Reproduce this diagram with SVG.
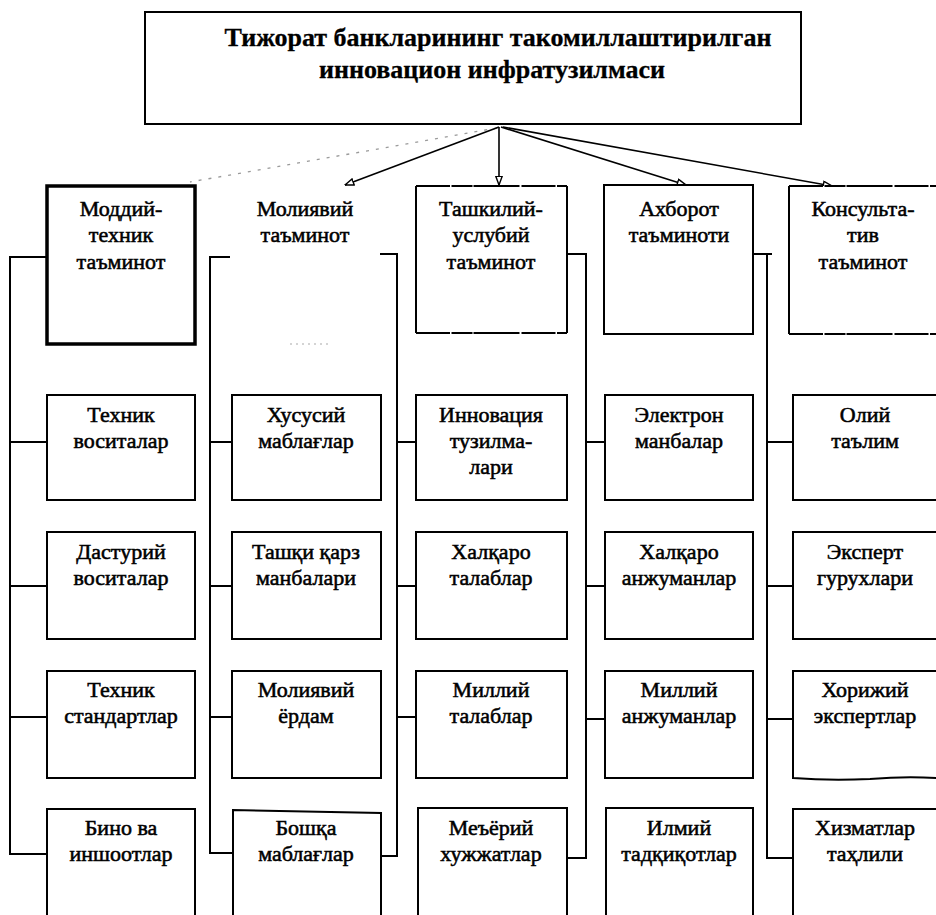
<svg xmlns="http://www.w3.org/2000/svg" width="936" height="915" viewBox="0 0 936 915">
  <defs>
    <marker id="head" viewBox="0 0 10 8" refX="9.5" refY="4" markerWidth="10" markerHeight="8" markerUnits="userSpaceOnUse" orient="auto">
      <path d="M0.8,0.8 L9.5,4 L0.8,7.2 Z" fill="#fff" stroke="#000" stroke-width="1.4"/>
    </marker>
    <style>
      .box { fill: #fff; stroke: #000; stroke-width: 2; }
      .thick { stroke-width: 3.5; }
      .edge { fill: none; stroke: #000; stroke-width: 2; }
      .broken { fill: none; stroke: #000; stroke-width: 2.2; stroke-dasharray: 34 1.5 21 1 46 2; }
      .t { font-family: "Liberation Serif", "DejaVu Serif", serif; font-size: 22px; fill: #000; stroke: #000; stroke-width: 0.55; text-anchor: middle; }
      .title { font-family: "Liberation Serif", "DejaVu Serif", serif; font-size: 26px; font-weight: bold; fill: #000; stroke: #000; stroke-width: 0.3; text-anchor: middle; }
      .wire { fill: none; stroke: #000; stroke-width: 2; }
      .arrow { fill: none; stroke: #000; stroke-width: 1.6; }
    </style>
  </defs>
  <rect width="936" height="915" fill="#fff"/>

  <!-- root node -->
  <g id="root">
    <rect class="box" x="145" y="12" width="656" height="112" stroke-width="4"/>
    <text class="title" x="498" y="46">Тижорат банкларининг такомиллаштирилган</text>
    <text class="title" x="492" y="78">инновацион инфратузилмаси</text>
  </g>

  <!-- connectors -->
  <g id="connectors">
    <!-- from root to the five branches -->
    <path d="M497,128 L190,182" fill="none" stroke="#9a9a9a" stroke-width="1.3" stroke-dasharray="3 7"/>
    <path class="arrow" d="M499,127 L345,185" marker-end="url(#head)"/>
    <path class="arrow" d="M499,127 V185" marker-end="url(#head)"/>
    <path class="arrow" d="M501,127 L686,185" stroke-width="2.8" marker-end="url(#head)"/>
    <path class="arrow" d="M503,127 L832,186" stroke-width="1.8" marker-end="url(#head)"/>

    <!-- column 1 bus -->
    <path class="wire" d="M47,257 H10 V854 H47 M10,442 H47 M10,586 H47 M10,717 H47"/>
    <!-- column 2 bus -->
    <path class="wire" d="M230,257 H210 V853 H232 M210,442 H232 M210,586 H232 M210,717 H232"/>
    <!-- column 3 bus -->
    <path class="wire" d="M380,254 H397 V856 H381 M397,442 H416 M397,586 H416 M397,717 H416"/>
    <!-- column 4 bus -->
    <path class="wire" d="M567,254 H586 V858 H567 M586,442 H605 M586,586 H605 M586,719 H605"/>
    <!-- column 5 bus -->
    <path class="wire" d="M753,254 H772 M767,254 V858 H792 M767,442 H792 M767,586 H792 M767,719 H792"/>
  </g>

  <!-- branch headers -->
  <g id="h1">
    <rect class="box thick" x="47" y="186" width="148" height="158"/>
    <text class="t" x="121" y="216">Моддий-</text>
    <text class="t" x="121" y="242">техник</text>
    <text class="t" x="121" y="269">таъминот</text>
  </g>
  <g id="h2">
    <path d="M290,344 H330" stroke="#aaa" stroke-width="1.2" stroke-dasharray="2 4"/>
    <text class="t" x="305" y="216">Молиявий</text>
    <text class="t" x="305" y="242">таъминот</text>
  </g>
  <g id="h3">
    <rect x="416" y="186" width="151" height="147" fill="#fff"/>
    <path class="edge" d="M416,186 V333 M567,186 V333"/>
    <path class="broken" d="M416,186 H567 M416,333 H567"/>
    <text class="t" x="491" y="216">Ташкилий-</text>
    <text class="t" x="491" y="242">услубий</text>
    <text class="t" x="491" y="269">таъминот</text>
  </g>
  <g id="h4">
    <rect class="box" x="604" y="185" width="149" height="149" stroke-width="4"/>
    <text class="t" x="679" y="216">Ахборот</text>
    <text class="t" x="679" y="242">таъминоти</text>
  </g>
  <g id="h5">
    <rect x="789" y="186" width="160" height="148" fill="#fff"/>
    <path class="edge" d="M789,186 V334" stroke-width="2.5"/>
    <path class="broken" d="M789,186 H940 M789,334 H940"/>
    <text class="t" x="863" y="216">Консульта-</text>
    <text class="t" x="863" y="242">тив</text>
    <text class="t" x="863" y="269">таъминот</text>
  </g>

  <!-- column 1 items -->
  <g id="c1r1"><rect class="box" x="47" y="395" width="148" height="105"/>
    <text class="t" x="121" y="422">Техник</text><text class="t" x="121" y="448">воситалар</text></g>
  <g id="c1r2"><rect class="box" x="47" y="532" width="148" height="107"/>
    <text class="t" x="121" y="559">Дастурий</text><text class="t" x="121" y="585">воситалар</text></g>
  <g id="c1r3"><rect class="box" x="47" y="671" width="148" height="107"/>
    <text class="t" x="121" y="697">Техник</text><text class="t" x="121" y="723">стандартлар</text></g>
  <g id="c1r4"><rect class="box" x="47" y="809" width="148" height="130"/>
    <text class="t" x="121" y="835">Бино ва</text><text class="t" x="121" y="861">иншоотлар</text></g>

  <!-- column 2 items -->
  <g id="c2r1"><rect class="box" x="232" y="395" width="149" height="105"/>
    <text class="t" x="306" y="422">Хусусий</text><text class="t" x="306" y="448">маблағлар</text></g>
  <g id="c2r2"><rect class="box" x="232" y="532" width="149" height="107"/>
    <text class="t" x="306" y="559">Ташқи қарз</text><text class="t" x="306" y="585">манбалари</text></g>
  <g id="c2r3"><rect class="box" x="232" y="671" width="149" height="107"/>
    <text class="t" x="306" y="697">Молиявий</text><text class="t" x="306" y="723">ёрдам</text></g>
  <g id="c2r4"><path class="box" d="M233,939 V810 L381,813 V939"/>
    <text class="t" x="306" y="835">Бошқа</text><text class="t" x="306" y="861">маблағлар</text></g>

  <!-- column 3 items -->
  <g id="c3r1"><rect class="box" x="416" y="395" width="151" height="105"/>
    <text class="t" x="491" y="422">Инновация</text><text class="t" x="491" y="448">тузилма-</text><text class="t" x="491" y="474">лари</text></g>
  <g id="c3r2"><rect class="box" x="416" y="532" width="151" height="107"/>
    <text class="t" x="491" y="559">Халқаро</text><text class="t" x="491" y="585">талаблар</text></g>
  <g id="c3r3"><rect class="box" x="416" y="671" width="151" height="107"/>
    <text class="t" x="491" y="697">Миллий</text><text class="t" x="491" y="723">талаблар</text></g>
  <g id="c3r4"><rect class="box" x="418" y="808" width="149" height="130"/>
    <text class="t" x="491" y="835">Меъёрий</text><text class="t" x="491" y="861">хужжатлар</text></g>

  <!-- column 4 items -->
  <g id="c4r1"><rect class="box" x="605" y="395" width="148" height="105"/>
    <text class="t" x="679" y="422">Электрон</text><text class="t" x="679" y="448">манбалар</text></g>
  <g id="c4r2"><rect class="box" x="605" y="532" width="148" height="107"/>
    <text class="t" x="679" y="559">Халқаро</text><text class="t" x="679" y="585">анжуманлар</text></g>
  <g id="c4r3"><rect class="box" x="605" y="671" width="148" height="107"/>
    <text class="t" x="679" y="697">Миллий</text><text class="t" x="679" y="723">анжуманлар</text></g>
  <g id="c4r4"><rect class="box" x="606" y="808" width="147" height="130"/>
    <text class="t" x="679" y="835">Илмий</text><text class="t" x="679" y="861">тадқиқотлар</text></g>

  <!-- column 5 items -->
  <g id="c5r1"><rect class="box" x="793" y="395" width="160" height="105"/>
    <text class="t" x="865" y="422">Олий</text><text class="t" x="865" y="448">таълим</text></g>
  <g id="c5r2"><rect class="box" x="793" y="532" width="160" height="107"/>
    <text class="t" x="865" y="559">Эксперт</text><text class="t" x="865" y="585">гурухлари</text></g>
  <g id="c5r3"><path class="box" d="M793,671 H953 V778 H936 Q905,776 870,779 Q830,781 793,778 Z"/>
    <text class="t" x="865" y="697">Хорижий</text><text class="t" x="865" y="723">экспертлар</text></g>
  <g id="c5r4"><rect class="box" x="793" y="809" width="160" height="130"/>
    <text class="t" x="865" y="835">Хизматлар</text><text class="t" x="865" y="861">таҳлили</text></g>
</svg>
